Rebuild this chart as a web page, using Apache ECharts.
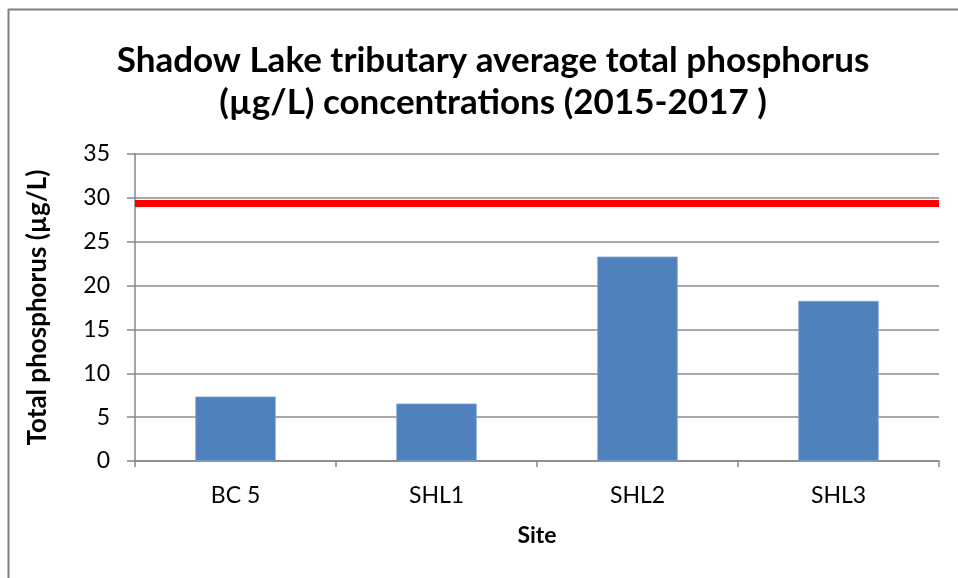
<!DOCTYPE html>
<html>
<head>
<meta charset="utf-8">
<script src="https://cdn.jsdelivr.net/npm/echarts@6/dist/echarts.min.js"></script>
<style>
  html, body { margin: 0; padding: 0; background: #fff; }
  #chart { width: 958px; height: 578px; }
</style>
</head>
<body>
<div id="chart"></div>
<script>
// Sampling sites and their average total phosphorus (µg/L), 2015–2017
const sites = ['BC 5', 'SHL1', 'SHL2', 'SHL3'];
const avgPhosphorus = [7.35, 6.55, 23.3, 18.25];
// Guideline level drawn as a horizontal reference line
const guidelineLevel = [29.4];
const yTicks = { min: 0, max: 35, interval: 5 };

const FONT = 'Lato';
const chart = echarts.init(document.getElementById('chart'), null, { renderer: 'canvas' });

chart.setOption({
  backgroundColor: '#ffffff',
  animation: false,
  textStyle: { fontFamily: FONT },
  title: {
    text: 'Shadow Lake tributary average total phosphorus\n(µg/L) concentrations (2015-2017 )',
    left: 488,
    top: 35,
    textAlign: 'center',
    textStyle: {
      fontFamily: FONT,
      fontWeight: 'bold',
      fontSize: 35,
      lineHeight: 42,
      color: '#000'
    }
  },
  graphic: [
    { type: 'line', shape: { x1: 8.5, y1: 9, x2: 8.5, y2: 578 }, style: { stroke: '#7f7f7f', lineWidth: 2 } },
    { type: 'line', shape: { x1: 8, y1: 9.5, x2: 958, y2: 9.5 }, style: { stroke: '#7f7f7f', lineWidth: 2 } }
  ],
  grid: { left: 135, right: 19, top: 154, bottom: 117, containLabel: false },
  xAxis: {
    type: 'category',
    data: sites,
    name: 'Site',
    nameLocation: 'middle',
    nameGap: 63,
    nameTextStyle: { fontFamily: FONT, fontWeight: 'bold', fontSize: 23, color: '#000' },
    axisLine: { show: true, lineStyle: { color: '#868686', width: 1.5 } },
    axisTick: { show: true, alignWithLabel: false, length: 6, lineStyle: { color: '#868686', width: 1.5 } },
    axisLabel: { fontFamily: FONT, fontSize: 23, color: '#000', margin: 23 },
    splitLine: { show: false }
  },
  yAxis: {
    type: 'value',
    min: yTicks.min,
    max: yTicks.max,
    interval: yTicks.interval,
    name: 'Total phosphorus (µg/L)',
    nameLocation: 'middle',
    nameRotate: 90,
    nameGap: 84,
    nameTextStyle: { fontFamily: FONT, fontWeight: 'bold', fontSize: 26, color: '#000' },
    axisLine: { show: true, lineStyle: { color: '#868686', width: 1.5 } },
    axisTick: { show: true, inside: false, length: 8, lineStyle: { color: '#868686', width: 1.5 } },
    axisLabel: { fontFamily: FONT, fontSize: 23, color: '#000', margin: 25 },
    splitLine: { show: true, lineStyle: { color: '#8c8c8c', width: 1.5 } }
  },
  series: [
    {
      type: 'bar',
      data: avgPhosphorus,
      barCategoryGap: '60%',
      itemStyle: { color: '#4f81bd', borderColor: '#7ea3d3', borderWidth: 0.8 },
      markLine: {
        silent: true,
        symbol: ['none', 'none'],
        label: { show: false },
        lineStyle: { color: '#ff0000', width: 7, type: 'solid' },
        data: guidelineLevel.map(v => ({ yAxis: v }))
      }
    }
  ]
});
</script>
</body>
</html>
